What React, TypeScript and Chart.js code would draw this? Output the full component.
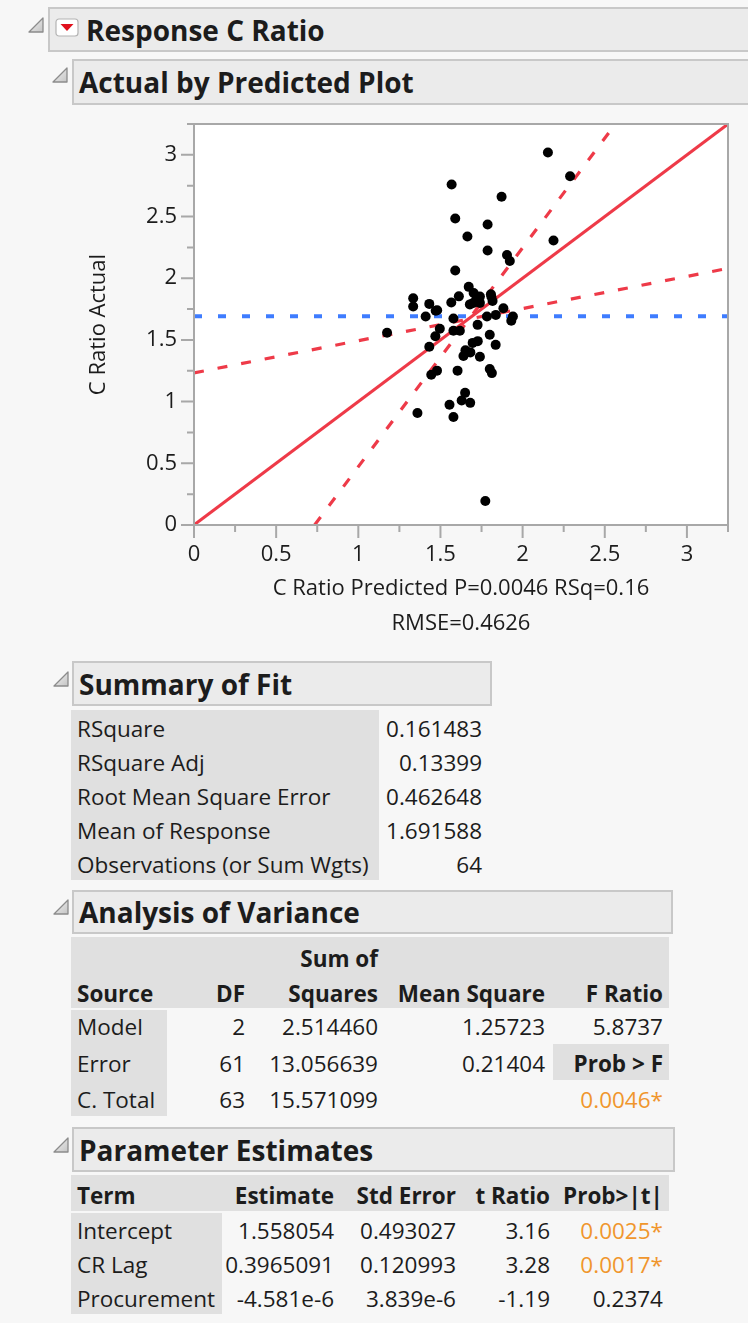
import React, { useEffect, useRef } from 'react';
import { Chart, registerables } from 'chart.js';

Chart.register(...registerables);

// ---- Actual by Predicted data (C Ratio) ----
const predicted = [
  2.154, 2.289, 1.568, 1.872, 1.590, 1.787, 1.664, 2.188, 1.787, 1.905,
  1.922, 1.590, 1.672, 1.702, 1.740, 1.807, 1.612, 1.334, 1.334, 1.432,
  1.471, 1.566, 1.679, 1.740, 1.817, 1.883, 1.837, 1.783, 1.941, 1.931,
  1.410, 1.579, 1.726, 1.175, 1.496, 1.579, 1.618, 1.469, 1.800, 1.432,
  1.696, 1.727, 1.836, 1.652, 1.682, 1.640, 1.740, 1.479, 1.444, 1.604,
  1.800, 1.813, 1.650, 1.629, 1.681, 1.555, 1.360, 1.579, 1.773, 1.720,
  1.700, 1.810, 1.480, 1.660,
];
const actual = [
  3.019, 2.826, 2.760, 2.661, 2.484, 2.436, 2.338, 2.306, 2.225, 2.188,
  2.139, 2.062, 1.930, 1.880, 1.851, 1.870, 1.853, 1.838, 1.771, 1.792,
  1.736, 1.803, 1.788, 1.800, 1.816, 1.757, 1.703, 1.690, 1.690, 1.655,
  1.690, 1.673, 1.622, 1.558, 1.590, 1.574, 1.574, 1.530, 1.542, 1.445,
  1.476, 1.490, 1.460, 1.416, 1.399, 1.370, 1.364, 1.251, 1.218, 1.251,
  1.265, 1.231, 1.071, 1.009, 0.990, 0.975, 0.908, 0.875, 0.194, 1.835,
  1.800, 1.850, 1.740, 1.405,
];

const axisMin = 0;
const axisMax = 3.25;
const tickStep = 0.25;
const meanOfResponse = 1.691588;

// fit line: actual = predicted
const fitLineX = [0, 3.25];
// confidence curves of the leverage fit
const confShallowX = [0, 3.25];
const confShallowY = [1.233, 2.08];
const confSteepX = [0.734, 2.565];
const confSteepY = [0, 3.25];

const xTitleLines = ['C Ratio Predicted P=0.0046 RSq=0.16', 'RMSE=0.4626'];
const yTitle = 'C Ratio Actual';

// ---- Summary of Fit ----
const fitLabels = ['RSquare', 'RSquare Adj', 'Root Mean Square Error', 'Mean of Response', 'Observations (or Sum Wgts)'];
const fitValues = ['0.161483', '0.13399', '0.462648', '1.691588', '64'];

// ---- Analysis of Variance ----
const anovaSources = ['Model', 'Error', 'C. Total'];
const anovaDF = ['2', '61', '63'];
const anovaSS = ['2.514460', '13.056639', '15.571099'];
const anovaMS = ['1.25723', '0.21404', ''];
const anovaFRatio = '5.8737';
const anovaProbF = '0.0046*';

// ---- Parameter Estimates ----
const terms = ['Intercept', 'CR Lag', 'Procurement'];
const estimates = ['1.558054', '0.3965091', '-4.581e-6'];
const stdErrors = ['0.493027', '0.120993', '3.839e-6'];
const tRatios = ['3.16', '3.28', '-1.19'];
const probT = ['0.0025*', '0.0017*', '0.2374'];
const probTSignificant = [true, true, false];

const FONT = '"Open Sans", "Noto Sans", sans-serif';
const TEXT = '#1c1c1c';
const RED = 'rgb(238, 58, 72)';
const BLUE = 'rgb(62, 124, 255)';
const ORANGE = '#f0962d';
const FRAME = '#a8a8a8';
const PAGE_BG = '#f7f7f7';
const HEAD_BG = '#ebebeb';
const HEAD_BORDER = '#c8c8c8';
const CELL_BG = '#e0e0e0';
const BODY_SIZE = 22.5;
const HEAD_SIZE = 28;

const isMajor = (v: number) => Math.abs(v * 2 - Math.round(v * 2)) < 1e-6;

const framePlugin = {
  id: 'jmpFrame',
  beforeDatasetsDraw(chart: any) {
    const { ctx, chartArea: a } = chart;
    ctx.save();
    ctx.fillStyle = '#ffffff';
    ctx.fillRect(a.left, a.top, a.right - a.left, a.bottom - a.top);
    ctx.restore();
  },
  afterDraw(chart: any) {
    const { ctx, chartArea: a, scales } = chart;
    ctx.save();
    ctx.strokeStyle = FRAME;
    ctx.lineWidth = 2;
    ctx.strokeRect(a.left, a.top, a.right - a.left, a.bottom - a.top);
    ctx.beginPath();
    scales.x.ticks.forEach((t: any) => {
      const p = scales.x.getPixelForValue(t.value);
      const len = isMajor(t.value) ? 13 : 7;
      ctx.moveTo(p, a.bottom);
      ctx.lineTo(p, a.bottom + len);
    });
    scales.y.ticks.forEach((t: any) => {
      const p = scales.y.getPixelForValue(t.value);
      const len = isMajor(t.value) ? 13 : 7;
      ctx.moveTo(a.left, p);
      ctx.lineTo(a.left - len, p);
    });
    ctx.stroke();
    ctx.restore();
  },
};

function ActualByPredicted() {
  const ref = useRef<HTMLCanvasElement | null>(null);
  useEffect(() => {
    if (!ref.current) return;
    const tickLabel = (v: any) => (isMajor(Number(v)) ? String(Number(v)) : '');
    const tickFont = { family: FONT, size: 22 };
    const chart = new Chart(ref.current, {
      type: 'scatter',
      data: {
        datasets: [
          {
            label: 'C Ratio',
            data: predicted.map((x, i) => ({ x, y: actual[i] })),
            pointRadius: 5,
            pointBackgroundColor: '#000',
            pointBorderWidth: 0,
            showLine: false,
          },
          {
            label: 'Fit',
            data: fitLineX.map((x) => ({ x, y: x })),
            showLine: true,
            borderColor: RED,
            borderWidth: 3,
            pointRadius: 0,
          },
          {
            label: 'Confidence A',
            data: confShallowX.map((x, i) => ({ x, y: confShallowY[i] })),
            showLine: true,
            borderColor: RED,
            borderWidth: 3.2,
            borderDash: [10, 14],
            pointRadius: 0,
          },
          {
            label: 'Confidence B',
            data: confSteepX.map((x, i) => ({ x, y: confSteepY[i] })),
            showLine: true,
            borderColor: RED,
            borderWidth: 3.2,
            borderDash: [10, 14],
            pointRadius: 0,
          },
          {
            label: 'Mean',
            data: [
              { x: axisMin, y: meanOfResponse },
              { x: axisMax, y: meanOfResponse },
            ],
            showLine: true,
            borderColor: BLUE,
            borderWidth: 4,
            borderDash: [8, 16],
            pointRadius: 0,
          },
        ],
      },
      options: {
        animation: false,
        responsive: false,
        devicePixelRatio: 1,
        events: [],
        layout: { padding: { top: 14, right: 20, bottom: 0, left: 0 } },
        plugins: { legend: { display: false }, tooltip: { enabled: false } },
        scales: {
          x: {
            type: 'linear',
            min: axisMin,
            max: axisMax,
            grid: { display: false, drawTicks: false },
            border: { display: false },
            ticks: {
              stepSize: tickStep,
              autoSkip: false,
              maxRotation: 0,
              padding: 17,
              color: TEXT,
              font: tickFont,
              callback: tickLabel,
            },
            title: {
              display: true,
              text: xTitleLines,
              color: TEXT,
              font: { family: FONT, size: 22, lineHeight: 35 / 22 },
              padding: 0,
            },
            afterFit: (s: any) => {
              s.height = 116;
              s.paddingLeft = 0;
              s.paddingRight = 0;
            },
          },
          y: {
            type: 'linear',
            min: axisMin,
            max: axisMax,
            grid: { display: false, drawTicks: false },
            border: { display: false },
            ticks: {
              stepSize: tickStep,
              autoSkip: false,
              padding: 17,
              color: TEXT,
              font: tickFont,
              callback: tickLabel,
            },
            title: {
              display: true,
              text: yTitle,
              color: TEXT,
              font: { family: FONT, size: 22 },
              padding: { top: 6, bottom: 0 },
            },
            afterFit: (s: any) => {
              s.width = 114;
              s.paddingTop = 0;
              s.paddingBottom = 0;
            },
          },
        },
      },
      plugins: [framePlugin],
    } as any);
    return () => chart.destroy();
  }, []);
  return (
    <canvas
      ref={ref}
      width={668}
      height={531}
      style={{ position: 'absolute', left: 80, top: 110, width: 668, height: 531 }}
    />
  );
}

type TxtProps = {
  x: number;
  y: number;
  align?: 'left' | 'right';
  bold?: boolean;
  size?: number;
  color?: string;
  children?: React.ReactNode;
};

function Txt({ x, y, align = 'left', bold = false, size = BODY_SIZE, color = TEXT, children }: TxtProps) {
  const h = 32;
  const style: React.CSSProperties = {
    position: 'absolute',
    top: y - h / 2,
    height: h,
    lineHeight: h + 'px',
    fontSize: size,
    fontWeight: bold ? 700 : 400,
    color,
    whiteSpace: 'nowrap',
  };
  if (align === 'left') style.left = x;
  else style.right = 748 - x;
  return <div style={style}>{children}</div>;
}

function Rect({ x, y, w, h, fill, border }: { x: number; y: number; w: number; h: number; fill: string; border?: string }) {
  return (
    <div
      style={{
        position: 'absolute',
        left: x,
        top: y,
        width: w,
        height: h,
        background: fill,
        boxSizing: 'border-box',
        border: border ? `2px solid ${border}` : undefined,
      }}
    />
  );
}

function Disclosure({ x, y, s = 14 }: { x: number; y: number; s?: number }) {
  return (
    <svg style={{ position: 'absolute', left: x, top: y }} width={s + 2} height={s + 2}>
      <defs>
        <linearGradient id={`dg${x}${y}`} x1="0" y1="0" x2="1" y2="1">
          <stop offset="0" stopColor="#f4f4f4" />
          <stop offset="1" stopColor="#c4c4c4" />
        </linearGradient>
      </defs>
      <polygon
        points={`1,${s + 1} ${s + 1},${s + 1} ${s + 1},1`}
        fill={`url(#dg${x}${y})`}
        stroke="#8c8c8c"
        strokeWidth={1.3}
        strokeLinejoin="round"
      />
    </svg>
  );
}

function Header({ x, y, w, h, title, textX }: { x: number; y: number; w: number; h: number; title: string; textX: number }) {
  return (
    <>
      <Rect x={x} y={y} w={w} h={h} fill={HEAD_BG} border={HEAD_BORDER} />
      <Txt x={textX} y={y + h / 2} bold size={HEAD_SIZE}>
        {title}
      </Txt>
    </>
  );
}

export default function App() {
  const fitRowY = [729, 763, 797, 831, 865];
  const anovaRowY = [1027, 1064, 1100];
  const paramRowY = [1231, 1265, 1299];

  return (
    <div
      style={{
        position: 'absolute',
        left: 0,
        top: 0,
        width: 748,
        height: 1323,
        background: PAGE_BG,
        overflow: 'hidden',
        fontFamily: FONT,
      }}
    >
      {/* Response header */}
      <Disclosure x={28} y={17} />
      <Header x={48} y={7} w={720} h={45} title="Response C Ratio" textX={86} />
      <svg style={{ position: 'absolute', left: 55, top: 18 }} width={25} height={20}>
        <rect x={1} y={1} width={22} height={17} rx={3} fill="#ffffff" stroke="#b4b4b4" strokeWidth={1.2} />
        <polygon points="5.5,6 18.5,6 12,13" fill="#e0101c" />
      </svg>

      {/* Actual by Predicted Plot */}
      <Disclosure x={52} y={67} />
      <Header x={72} y={59} w={700} h={46} title="Actual by Predicted Plot" textX={79} />
      <ActualByPredicted />

      {/* Summary of Fit */}
      <Disclosure x={53} y={671} />
      <Header x={72} y={661} w={420} h={45} title="Summary of Fit" textX={79} />
      <Rect x={71} y={710} w={308} h={170} fill={CELL_BG} />
      {fitLabels.map((l, i) => (
        <Txt key={l} x={77} y={fitRowY[i]}>
          {l}
        </Txt>
      ))}
      {fitValues.map((v, i) => (
        <Txt key={'fv' + i} x={482} y={fitRowY[i]} align="right">
          {v}
        </Txt>
      ))}

      {/* Analysis of Variance */}
      <Disclosure x={53} y={899} />
      <Header x={72} y={890} w={601} h={44} title="Analysis of Variance" textX={79} />
      <Rect x={71} y={937} w={598} h={71} fill={CELL_BG} />
      <Rect x={71} y={1010} w={96} h={106} fill={CELL_BG} />
      <Rect x={553} y={1044} w={116} h={36} fill={CELL_BG} />
      <Txt x={378} y={959} align="right" bold>
        Sum of
      </Txt>
      <Txt x={77} y={994} bold>
        Source
      </Txt>
      <Txt x={245} y={994} align="right" bold>
        DF
      </Txt>
      <Txt x={378} y={994} align="right" bold>
        Squares
      </Txt>
      <Txt x={545} y={994} align="right" bold>
        Mean Square
      </Txt>
      <Txt x={663} y={994} align="right" bold>
        F Ratio
      </Txt>
      {anovaSources.map((s, i) => (
        <React.Fragment key={s}>
          <Txt x={77} y={anovaRowY[i]}>
            {s}
          </Txt>
          <Txt x={245} y={anovaRowY[i]} align="right">
            {anovaDF[i]}
          </Txt>
          <Txt x={378} y={anovaRowY[i]} align="right">
            {anovaSS[i]}
          </Txt>
          <Txt x={545} y={anovaRowY[i]} align="right">
            {anovaMS[i]}
          </Txt>
        </React.Fragment>
      ))}
      <Txt x={663} y={anovaRowY[0]} align="right">
        {anovaFRatio}
      </Txt>
      <Txt x={663} y={anovaRowY[1]} align="right" bold>
        Prob &gt; F
      </Txt>
      <Txt x={663} y={anovaRowY[2]} align="right" color={ORANGE}>
        {anovaProbF}
      </Txt>

      {/* Parameter Estimates */}
      <Disclosure x={53} y={1137} />
      <Header x={72} y={1127} w={603} h={45} title="Parameter Estimates" textX={79} />
      <Rect x={71} y={1175} w={598} h={36} fill={CELL_BG} />
      <Rect x={71} y={1213} w={151} h={101} fill={CELL_BG} />
      <Txt x={77} y={1196} bold>
        Term
      </Txt>
      <Txt x={334} y={1196} align="right" bold>
        Estimate
      </Txt>
      <Txt x={456} y={1196} align="right" bold>
        Std Error
      </Txt>
      <Txt x={550} y={1196} align="right" bold>
        t Ratio
      </Txt>
      <Txt x={663} y={1196} align="right" bold>
        Prob&gt;|t|
      </Txt>
      {terms.map((t, i) => (
        <React.Fragment key={t}>
          <Txt x={77} y={paramRowY[i]}>
            {t}
          </Txt>
          <Txt x={334} y={paramRowY[i]} align="right">
            {estimates[i]}
          </Txt>
          <Txt x={456} y={paramRowY[i]} align="right">
            {stdErrors[i]}
          </Txt>
          <Txt x={550} y={paramRowY[i]} align="right">
            {tRatios[i]}
          </Txt>
          <Txt x={663} y={paramRowY[i]} align="right" color={probTSignificant[i] ? ORANGE : TEXT}>
            {probT[i]}
          </Txt>
        </React.Fragment>
      ))}
    </div>
  );
}
